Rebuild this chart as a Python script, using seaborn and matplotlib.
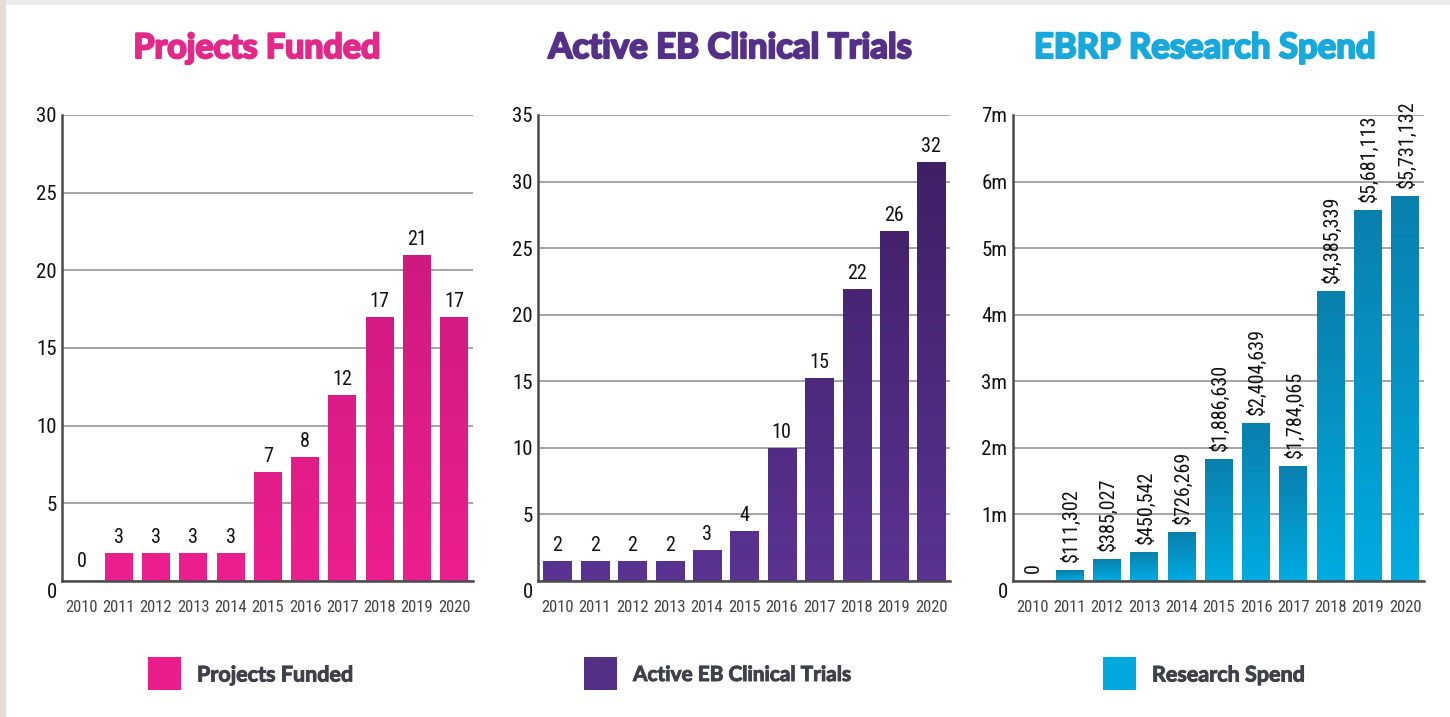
import numpy as np
import matplotlib
matplotlib.use("Agg")
import matplotlib.pyplot as plt
from matplotlib.colors import LinearSegmentedColormap
from matplotlib.patches import Rectangle
import matplotlib.patheffects as pe
from matplotlib import font_manager
import seaborn as sns

# ---------------- data ----------------
years = ["2010", "2011", "2012", "2013", "2014", "2015", "2016", "2017", "2018", "2019", "2020"]

projects_heights = [0, 1.8, 1.8, 1.8, 1.8, 7, 8, 12, 17, 21, 17]
projects_labels = ["0", "3", "3", "3", "3", "7", "8", "12", "17", "21", "17"]

trials_heights = [1.5, 1.5, 1.5, 1.5, 2.35, 3.75, 10, 15.25, 21.9, 26.3, 31.5]
trials_labels = ["2", "2", "2", "2", "3", "4", "10", "15", "22", "26", "32"]

spend_values = [0, 111302, 385027, 450542, 726269, 1886630, 2404639, 1784065, 4385339, 5681113, 5731132]
spend_heights_m = [0, 0.16, 0.33, 0.44, 0.73, 1.84, 2.38, 1.73, 4.36, 5.57, 5.79]

titles = ["Projects Funded", "Active EB Clinical Trials", "EBRP Research Spend"]
legend_labels = ["Projects Funded", "Active EB Clinical Trials", "Research Spend"]

# ---------------- style ----------------
sns.set_theme(style="white")
installed = {f.name for f in font_manager.fontManager.ttflist}
narrow_candidates = ["Roboto Condensed", "Liberation Sans Narrow", "Open Sans Condensed",
                     "Noto Sans Condensed", "DejaVu Sans Condensed"]
NARROW = [f for f in narrow_candidates if f in installed] + ["Roboto", "Liberation Sans", "DejaVu Sans"]
plt.rcParams["font.family"] = NARROW
HEAVY = ["Lato", "DejaVu Sans"]

W, H = 1450, 717
fig = plt.figure(figsize=(W / 100, H / 100), dpi=100)
fig.patch.set_facecolor("white")

# background strips (photo edge)
fig.add_artist(Rectangle((0, 1 - 5 / H), 1, 5 / H, transform=fig.transFigure,
                         facecolor="#ececec", edgecolor="none", zorder=-5))
fig.add_artist(Rectangle((0, 0), 6 / W, 1, transform=fig.transFigure,
                         facecolor="#e7ddd5", edgecolor="none", zorder=-5))


def px_axes(left, right, top, bottom):
    return fig.add_axes([left / W, 1 - bottom / H, (right - left) / W, (bottom - top) / H])


panels = [
    dict(box=(62, 473), heights=projects_heights, labels=projects_labels, ymax=30, step=5,
         top="#c1177a", bot="#ec1f8e", title_c="#e4288a", leg_c="#e91e8c",
         title_x=257, title_fs=24.5, leg_x=148, leg_fs=15.5, global_grad=True, rot=False),
    dict(box=(538, 950), heights=trials_heights, labels=trials_labels, ymax=35, step=5,
         top="#3c1d60", bot="#5a3393", title_c="#553089", leg_c="#553087",
         title_x=730, title_fs=25, leg_x=584, leg_fs=15, global_grad=True, rot=False),
    dict(box=(1013, 1424), heights=spend_heights_m,
         labels=[("${:,}".format(v) if v else "0") for v in spend_values], ymax=7, step=1,
         top="#0a7fac", bot="#00ace2", title_c="#17a8dc", leg_c="#00a8de",
         title_x=1205, title_fs=25, leg_x=1103, leg_fs=15.5, global_grad=False, rot=True),
]

for i, P in enumerate(panels):
    ax = px_axes(P["box"][0], P["box"][1], 115, 581)
    ax.set_facecolor("white")
    sns.barplot(x=years, y=P["heights"], ax=ax, color=P["bot"], width=0.75,
                saturation=1, edgecolor="none", linewidth=0)
    ax.set_xlim(-0.52, 10.48)
    ax.set_ylim(0, P["ymax"])

    cmap = LinearSegmentedColormap.from_list("g%d" % i, [P["bot"], P["top"]])
    grad = np.linspace(0, 1, 256).reshape(-1, 1)
    for p in list(ax.patches):
        x0, y0, w, h = p.get_x(), p.get_y(), p.get_width(), p.get_height()
        if h <= 0:
            continue
        if P["global_grad"]:
            ext = [x0, x0 + w, 0, P["ymax"]]
        else:
            ext = [x0, x0 + w, y0, y0 + h]
        im = ax.imshow(grad, extent=ext, origin="lower", cmap=cmap, aspect="auto",
                       zorder=p.get_zorder() + 0.1, interpolation="bilinear")
        im.set_clip_path(p)
    ax.set_xlim(-0.52, 10.48)
    ax.set_ylim(0, P["ymax"])

    # value labels
    for j, (hv, lab) in enumerate(zip(P["heights"], P["labels"])):
        if P["rot"]:
            ax.annotate(lab, xy=(j, hv), xytext=(1, 8), textcoords="offset pixels",
                        ha="center", va="bottom", rotation=90, fontsize=14.5, color="#111111")
        else:
            ax.annotate(lab, xy=(j, hv), xytext=(0, 6 if hv > 0 else 10), textcoords="offset pixels",
                        ha="center", va="bottom", fontsize=14.5, color="#111111")

    # y axis
    yt = np.arange(0, P["ymax"] + P["step"] / 2, P["step"])
    ax.set_yticks(yt)
    if P["rot"]:
        ylabs = ["" if v == 0 else "%dm" % v for v in yt]
    else:
        ylabs = ["" if v == 0 else "%d" % v for v in yt]
    ax.set_yticklabels(ylabs)
    ax.tick_params(axis="y", direction="in", length=11, width=2.6, color="#3a3a3a",
                   pad=4, labelsize=15, labelcolor="#111111")
    ax.annotate("0", xy=(0, 0), xycoords=("axes fraction", "data"), xytext=(-5, -11),
                textcoords="offset pixels", ha="right", va="center", fontsize=15, color="#111111")
    ax.yaxis.grid(True, color="#8c8c8c", linewidth=1.1)
    ax.set_axisbelow(True)

    # x axis
    ax.tick_params(axis="x", which="major", length=0, pad=14, labelsize=12, labelcolor="#444444")
    ax.set_xticks(np.arange(0.5, 11, 1), minor=True)
    ax.tick_params(axis="x", which="minor", direction="in", length=8, width=1.4, color="#555555")
    ax.set_xlabel("")
    ax.set_ylabel("")

    for s in ["top", "right"]:
        ax.spines[s].set_visible(False)
    for s in ["left", "bottom"]:
        ax.spines[s].set_color("#4a4a4a")
        ax.spines[s].set_linewidth(1.8)

    # title
    t = fig.text(P["title_x"] / W, 1 - 48 / H, titles[i], ha="center", va="center",
                 fontsize=P["title_fs"], fontweight="bold", color=P["title_c"], family=HEAVY)
    t.set_path_effects([pe.withStroke(linewidth=1.6, foreground=P["title_c"])])

    # legend
    lx = P["leg_x"]
    fig.add_artist(Rectangle((lx / W, 1 - 690 / H), 33 / W, 33 / H, transform=fig.transFigure,
                             facecolor=P["leg_c"], edgecolor="none"))
    lt = fig.text((lx + 49) / W, 1 - 675 / H, legend_labels[i], ha="left", va="center",
                  fontsize=P["leg_fs"], fontweight="bold", color="#40404a", family=HEAVY)
    lt.set_path_effects([pe.withStroke(linewidth=0.7, foreground="#40404a")])

fig.savefig("out.png", dpi=100, facecolor="white")
